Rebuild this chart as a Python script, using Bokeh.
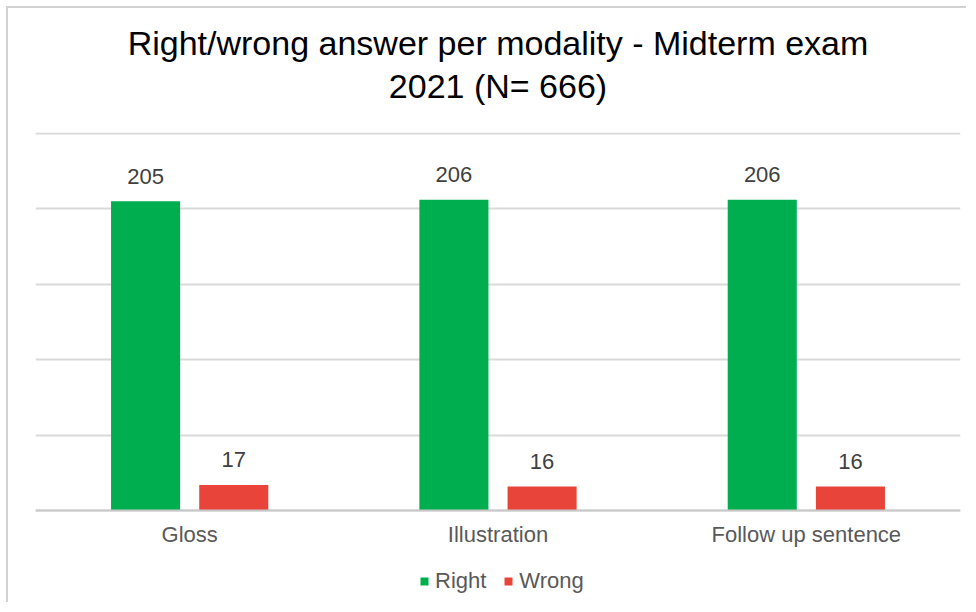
from bokeh.plotting import figure
from bokeh.models import ColumnDataSource, FactorRange, Range1d, FixedTicker, Legend, LegendItem, Title
from bokeh.core.properties import value
from bokeh.transform import dodge
from bokeh.embed import file_html
from bokeh.resources import INLINE

categories = ["Gloss", "Illustration", "Follow up sentence"]
right = [205, 206, 206]
wrong = [17, 16, 16]
y_ticks = [0, 50, 100, 150, 200, 250]

FONT = "Liberation Sans"
GREEN = "#00AE4F"
RED = "#E9443A"

src = ColumnDataSource(dict(cat=categories, right=right, wrong=wrong,
                            rl=[str(v) for v in right], wl=[str(v) for v in wrong]))

# frame runs down to the figure bottom so that the legend can sit inside it
p = figure(width=960, height=596, output_backend="svg", toolbar_location=None,
           x_range=FactorRange(*categories, range_padding=0), y_range=Range1d(-62.3, 250.66),
           min_border_left=27, min_border_right=8, min_border_top=124, min_border_bottom=0)
p.styles = {"margin-left": "6px", "margin-top": "6px",
            "border-left": "2px solid #D2D2D2", "border-top": "2px solid #D2D2D2"}

p.title.text = "Right/wrong answer per modality - Midterm exam"
p.title.align = "center"
p.title.offset = 8
p.title.text_font = FONT
p.title.text_font_size = "34px"
p.title.text_font_style = "normal"
p.title.text_color = "#000000"
p.title.standoff = 12
# spacer (closest to the frame), then the second title line
p.add_layout(Title(text=" ", text_font_size="2px", standoff=26), "above")
title_kw = dict(text="2021 (N= 666)", align="center", offset=8,
                text_font=FONT, text_font_size="34px", text_font_style="normal",
                text_color="#000000")
try:
    line2 = Title(standoff=-5, **title_kw)
except Exception:
    line2 = Title(standoff=0, **title_kw)
p.add_layout(line2, "above")

r1 = p.vbar(x=dodge("cat", -0.143, range=p.x_range), top="right", width=0.224, source=src,
            fill_color=GREEN, line_color=None)
r2 = p.vbar(x=dodge("cat", 0.143, range=p.x_range), top="wrong", width=0.224, source=src,
            fill_color=RED, line_color=None)

for col, off, ycol in (("rl", -0.143, "right"), ("wl", 0.143, "wrong")):
    p.text(x=dodge("cat", off, range=p.x_range), y=ycol, text=col, source=src,
           text_align="center", text_baseline="alphabetic", y_offset=-25,
           text_font=value(FONT), text_font_size="22px", text_color="#404040")

p.yaxis.visible = False
p.ygrid.ticker = FixedTicker(ticks=y_ticks)
p.ygrid.grid_line_color = "#D9D9D9"
p.ygrid.grid_line_width = 2
p.xgrid.grid_line_color = None
p.outline_line_color = None

ax = p.xaxis[0]
ax.fixed_location = 0
ax.axis_line_color = "#C8C8C8"
ax.axis_line_width = 2
ax.major_tick_line_color = None
ax.minor_tick_line_color = None
ax.major_tick_in = 0
ax.major_tick_out = 0
ax.major_label_standoff = 11
ax.major_label_text_font = FONT
ax.major_label_text_font_size = "22px"
ax.major_label_text_color = "#595959"

legend = Legend(items=[LegendItem(label="Right", renderers=[r1]),
                       LegendItem(label="Wrong", renderers=[r2])],
                orientation="horizontal", location=(384, 10), margin=0,
                glyph_width=10, glyph_height=10, label_standoff=6, spacing=17,
                padding=0, border_line_color=None, background_fill_alpha=0,
                label_text_font=FONT, label_text_font_size="22px", label_text_color="#595959")
p.add_layout(legend, "center")

open("out.html", "w").write(file_html(p, INLINE))
